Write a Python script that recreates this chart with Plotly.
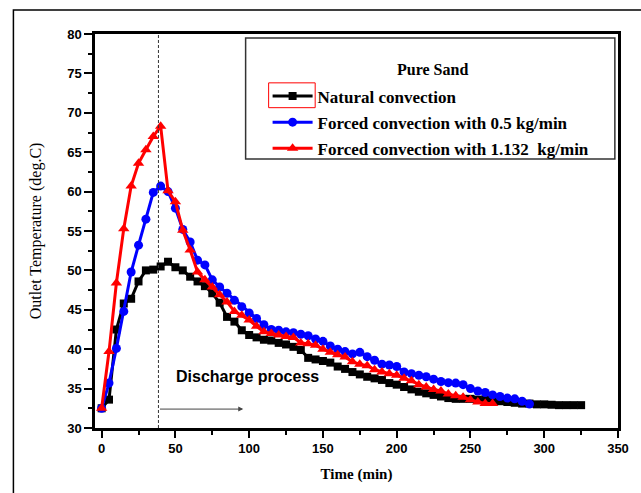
import plotly.graph_objects as go

time_natural = list(range(0, 330, 5))
temp_natural = [32.5, 33.6, 42.5, 45.8, 46.4, 48.6, 50.0, 50.1, 50.5, 51.1,
                50.4, 50.0, 49.2, 48.6, 48.0, 47.1, 45.9, 44.1, 43.5, 42.4,
                41.8, 41.5, 41.2, 41.1, 40.8, 40.6, 40.3, 39.9, 38.9, 38.7,
                38.5, 38.3, 37.8, 37.5, 37.1, 36.8, 36.5, 36.3, 36.1, 35.7,
                35.5, 35.2, 34.9, 34.6, 34.4, 34.2, 34.0, 33.8, 33.7, 33.7,
                33.7, 33.6, 33.6, 33.6, 33.4, 33.3, 33.2, 33.1, 33.1, 33.0,
                33.0, 32.95, 32.9, 32.9, 32.9, 32.9]

time_forced05 = list(range(0, 295, 5))
temp_forced05 = [32.5, 35.7, 40.1, 44.8, 49.8, 53.2, 56.5, 59.9, 60.7, 60.0,
                 57.9, 55.2, 53.6, 51.3, 50.7, 48.8, 47.9, 47.1, 46.2, 45.4,
                 44.6, 43.9, 43.1, 42.5, 42.4, 42.2, 42.1, 41.9, 41.7, 41.3,
                 41.0, 40.4, 40.0, 39.7, 39.4, 39.6, 39.05, 38.6, 38.1, 38.0,
                 37.8, 37.1, 36.9, 36.7, 36.5, 36.2, 35.9, 35.75, 35.7, 35.5,
                 35.0, 34.7, 34.5, 34.2, 34.0, 33.8, 33.7, 33.4, 33.05]

time_forced1132 = list(range(0, 270, 5))
temp_forced1132 = [32.5, 39.7, 48.4, 55.3, 60.7, 63.6, 65.3, 67.0, 68.3, 60.1,
                   58.7, 55.1, 52.6, 49.8, 48.8, 47.9, 46.9, 46.0, 44.8, 44.3,
                   43.7, 42.9, 42.2, 42.0, 41.8, 41.6, 41.5, 40.8, 40.7, 40.5,
                   40.0, 39.6, 39.3, 39.0, 38.4, 38.1, 37.9, 37.4, 37.1, 36.9,
                   36.7, 36.3, 36.0, 35.5, 35.2, 34.9, 34.7, 34.3, 34.1, 33.9,
                   33.6, 33.3, 33.1, 33.1]

series_names = ["Natural convection",
                "Forced convection with 0.5 kg/min",
                "Forced convection with 1.132  kg/min"]
legend_title = "Pure Sand"
discharge_start = 38.5
arrow_end = 96
arrow_level = 32.4
label_pos = (99, 36.5)
label_text = "Discharge process"

x_ticks = [0, 50, 100, 150, 200, 250, 300, 350]
y_ticks = [30, 35, 40, 45, 50, 55, 60, 65, 70, 75, 80]

serif = "Liberation Serif, Times New Roman, serif"
sans = "Liberation Sans, Arial, sans-serif"

fig = go.Figure()
fig.add_trace(go.Scatter(x=time_natural, y=temp_natural, mode="lines+markers",
                         name=series_names[0], legendgroup="a",
                         line=dict(color="black", width=3),
                         marker=dict(symbol="square", size=8, color="black")))
fig.add_trace(go.Scatter(x=time_forced05, y=temp_forced05, mode="lines+markers",
                         name=series_names[1], legendgroup="b",
                         line=dict(color="#0000ff", width=3),
                         marker=dict(symbol="circle", size=9, color="#0000ff")))
fig.add_trace(go.Scatter(x=time_forced1132, y=temp_forced1132, mode="lines+markers",
                         name=series_names[2], legendgroup="c",
                         line=dict(color="#ff0000", width=3),
                         marker=dict(symbol="triangle-up", size=10, color="#ff0000")))

# dashed vertical line marking start of discharge
fig.add_shape(type="line", xref="x", yref="paper", x0=discharge_start, x1=discharge_start,
              y0=0, y1=1, line=dict(color="#333333", width=1, dash="3px,2px"))
# arrow
fig.add_annotation(x=arrow_end, y=arrow_level, ax=discharge_start, ay=arrow_level,
                   xref="x", yref="y", axref="x", ayref="y", showarrow=True,
                   arrowhead=2, arrowsize=1, arrowwidth=1, arrowcolor="#444444", text="")
fig.add_annotation(x=label_pos[0], y=label_pos[1], xref="x", yref="y", text=label_text,
                   showarrow=False, font=dict(family=sans, size=16, color="black", weight="bold"))

# legend box and title
fig.add_shape(type="rect", xref="paper", yref="paper", x0=0.288, x1=0.994, y0=0.683, y1=0.99,
              line=dict(color="#333333", width=1.5), fillcolor="rgba(0,0,0,0)")
fig.add_annotation(xref="paper", yref="paper", x=0.645, y=0.91, text=legend_title,
                   showarrow=False, yanchor="middle",
                   font=dict(family=serif, size=16, color="black", weight="bold"))
# red highlight box around first legend symbol
fig.add_shape(type="rect", xref="paper", yref="paper", x0=0.332, x1=0.421, y0=0.813, y1=0.876,
              line=dict(color="#ff0000", width=1), fillcolor="rgba(0,0,0,0)")

# outer frame
fig.add_shape(type="rect", xref="paper", yref="paper", x0=-0.156, x1=1.2, y0=-0.3, y1=1.061,
              line=dict(color="black", width=1.5), fillcolor="rgba(0,0,0,0)")

axis_common = dict(showline=True, linecolor="black", linewidth=2.5, mirror=True,
                   ticks="outside", tickwidth=2, tickcolor="black",
                   showgrid=False, zeroline=False,
                   tickfont=dict(family=sans, size=13, color="black", weight="bold"))

fig.update_xaxes(range=[-4.5, 350], tickvals=x_ticks, ticklen=7,
                 minor=dict(dtick=25, tick0=0, ticks="outside", ticklen=4, tickwidth=2, tickcolor="black"),
                 title=dict(text="Time (min)", font=dict(family=serif, size=15, color="black", weight="bold"), standoff=14),
                 **axis_common)
fig.update_yaxes(range=[30, 80], tickvals=y_ticks, ticklen=8,
                 minor=dict(dtick=2.5, tick0=30, ticks="outside", ticklen=4, tickwidth=2, tickcolor="black"),
                 title=dict(text="Outlet Temperature (deg.C)", font=dict(family=serif, size=16, color="black"), standoff=22),
                 **axis_common)

fig.update_layout(width=641, height=493, margin=dict(l=95, r=16, t=34, b=65),
                  plot_bgcolor="white", paper_bgcolor="white",
                  showlegend=True,
                  legend=dict(x=0.33, y=0.887, xanchor="left", yanchor="top",
                              bgcolor="rgba(0,0,0,0)", borderwidth=0,
                              font=dict(family=serif, size=17, color="black", weight="bold"),
                              tracegroupgap=1, itemwidth=40))

fig.write_html("out.html")
